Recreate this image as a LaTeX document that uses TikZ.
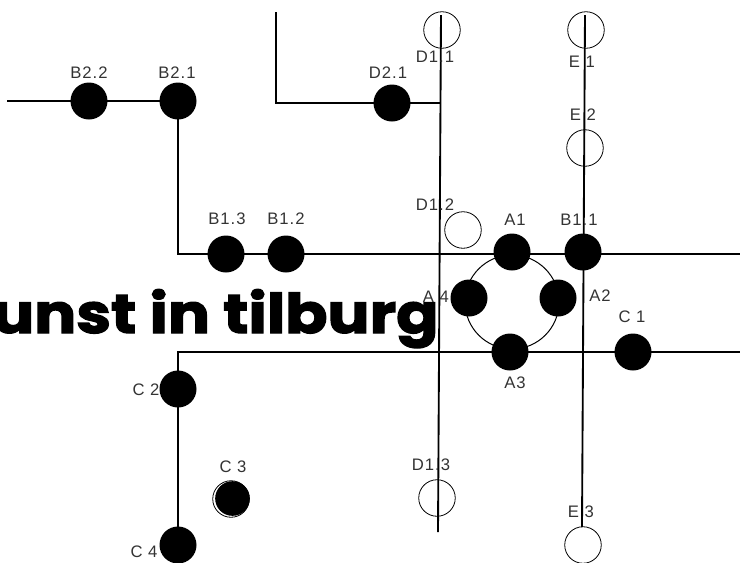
\documentclass[tikz,border=0pt]{standalone}
\usepackage{fontspec}
\usetikzlibrary{backgrounds}
\setmainfont{Liberation Sans}
\newfontfamily\titlefont[FakeBold=2.4,FakeStretch=1.14]{Poppins Bold}
\newfontfamily\labfont[LetterSpace=6]{Liberation Sans}
\tikzset{
  x=0.75pt,y=-0.75pt,
  full/.style={circle,fill=black,draw=none,inner sep=0pt,minimum size=27.75pt},
  open/.style={circle,draw=black,line width=0.6pt,inner sep=0pt,minimum size=27.4pt},
  conn/.style={line width=1.4pt,draw=black},
  ring/.style={line width=0.75pt,draw=black},
  lab/.style={font=\labfont\fontsize{12.5}{13}\selectfont,text=black!80,inner sep=0pt}
}
\begin{document}
\begin{tikzpicture}
\useasboundingbox (0,0) rectangle (740,562);
% nodes
\node[full] (B22) at (89,101) {};
\node[full] (B21) at (178,101) {};
\node[full] (D21) at (392,103) {};
\node[open] (D11) at (442,30) {};
\node[open] (E1) at (586,30) {};
\node[open] (E2) at (585,148) {};
\node[open] (D12) at (463,230) {};
\node[full] (A1) at (512,252) {};
\node[full] (B11) at (583,252) {};
\node[full] (A4) at (469,298) {};
\node[full] (A2) at (558,298) {};
\node[full] (A3) at (510,352) {};
\node[full] (C1) at (633,352) {};
\node[full] (B13) at (226,254) {};
\node[full] (B12) at (286,254) {};
\node[full] (C2) at (178,389) {};
\node[full] (C4) at (178,545) {};
\node[open] (C3r) at (231,499) {};
\node[full,minimum size=26pt] (C3) at (232.5,498.5) {};
\node[open] (D13) at (437,498) {};
\node[open] (E3) at (583,545) {};
% free ends
\coordinate (Lw) at (7,101);
\coordinate (Bc) at (178,254);
\coordinate (Be) at (740,254);
\coordinate (Cc) at (178,352);
\coordinate (Ce) at (740,352);
\coordinate (Dt) at (441,15);
\coordinate (Db) at (438,532);
\coordinate (Et) at (585,15);
\coordinate (Eb) at (582,527);
\coordinate (Ft) at (276,12);
\coordinate (Fc) at (276,103);
\coordinate (Fe) at (441,103);
\coordinate (Ring) at (512,302);
% connectors
\begin{pgfonlayer}{background}
\draw[conn,line width=1pt] (Lw) -- (B22.center) -- (B21.center);
\draw[conn] (B21.center) -- (Bc) -- (Be);
\draw[conn] (C4.center) -- (C2.center) -- (Cc) -- (Ce);
\draw[conn] (Dt) -- (Db);
\draw[conn] (Et) -- (Eb);
\draw[conn] (Ft) -- (Fc) -- (D21.center) -- (Fe);
\draw[ring] (Ring) circle[radius=47];
\end{pgfonlayer}
% title
\node[anchor=base west,inner sep=0pt,text=black] (title) at (-8,333)
  {\titlefont\fontsize{41}{44}\selectfont unst in tilburg};
% labels
\node[lab] (lB22) at (89,73) {B2.2};
\node[lab] (lB21) at (177,73) {B2.1};
\node[lab] (lD21) at (388,73) {D2.1};
\node[lab] (lD11) at (435,57) {D1.1};
\node[lab] (lE1) at (582,62) {E 1};
\node[lab] (lE2) at (583,115) {E 2};
\node[lab] (lD12) at (435,205) {D1.2};
\node[lab] (lA1) at (515,220) {A1};
\node[lab] (lB11) at (579,220) {B1.1};
\node[lab] (lB13) at (227,219) {B1.3};
\node[lab] (lB12) at (286,219) {B1.2};
\node[lab] (lA4) at (436,297) {A 4};
\node[lab] (lA2) at (600,296) {A2};
\node[lab] (lC1) at (632,317) {C 1};
\node[lab] (lA3) at (515,383) {A3};
\node[lab] (lC2) at (146,390) {C 2};
\node[lab] (lC3) at (233,467) {C 3};
\node[lab] (lD13) at (431,465) {D1.3};
\node[lab] (lE3) at (581,512) {E 3};
\node[lab] (lC4) at (144,552) {C 4};
\end{tikzpicture}
\end{document}
